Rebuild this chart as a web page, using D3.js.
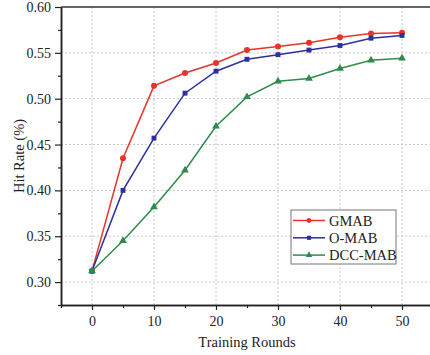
<!DOCTYPE html>
<html>
<head>
<meta charset="utf-8">
<script src="https://cdn.jsdelivr.net/npm/d3@7"></script>
<style>
body { margin: 0; background: #fff; }
svg { display: block; font-family: "Liberation Serif", "Times New Roman", serif; }
</style>
</head>
<body>
<script>
//data
var rounds = [0, 5, 10, 15, 20, 25, 30, 35, 40, 45, 50];
var seriesNames = ["GMAB", "O-MAB", "DCC-MAB"];
var gmab = [0.312, 0.435, 0.514, 0.528, 0.539, 0.553, 0.557, 0.561, 0.567, 0.571, 0.572];
var omab = [0.312, 0.400, 0.457, 0.506, 0.530, 0.543, 0.548, 0.553, 0.558, 0.566, 0.569];
var dccmab = [0.312, 0.345, 0.382, 0.422, 0.470, 0.502, 0.519, 0.522, 0.533, 0.542, 0.544];
var xTicks = [0, 10, 20, 30, 40, 50];
var yTicks = [0.30, 0.35, 0.40, 0.45, 0.50, 0.55, 0.60];

var colors = ["#e8332b", "#2c319c", "#2e8b4c"];
var symbols = [d3.symbolCircle, d3.symbolSquare, d3.symbolTriangle];
var symSizes = [28, 24, 26];

var width = 430, height = 355;
var margin = {top: 7, left: 61, bottom: 50, right: -3};

var svg = d3.select("body").append("svg")
    .attr("width", width)
    .attr("height", height);

var x = d3.scaleLinear().domain([-5, 55]).range([margin.left, width - margin.right]);
var y = d3.scaleLinear().domain([0.275, 0.60]).range([height - margin.bottom, margin.top]);

//grid
svg.append("g").selectAll("line").data(xTicks).enter().append("line")
    .attr("x1", function(d){ return x(d); })
    .attr("x2", function(d){ return x(d); })
    .attr("y1", y.range()[0])
    .attr("y2", y.range()[1])
    .attr("stroke", "#c8c8c8")
    .attr("stroke-width", 1)
    .attr("stroke-dasharray", "2,2");
svg.append("g").selectAll("line").data(yTicks.slice(0, -1)).enter().append("line")
    .attr("x1", x.range()[0])
    .attr("x2", x.range()[1])
    .attr("y1", function(d){ return y(d); })
    .attr("y2", function(d){ return y(d); })
    .attr("stroke", "#c8c8c8")
    .attr("stroke-width", 1)
    .attr("stroke-dasharray", "2,2");

//top border
svg.append("line")
    .attr("x1", x.range()[0]).attr("x2", x.range()[1])
    .attr("y1", y.range()[1]).attr("y2", y.range()[1])
    .attr("stroke", "#333").attr("stroke-width", 1.5);

//axes
var xAxis = d3.axisBottom(x).tickValues(xTicks).tickSize(5).tickSizeOuter(0).tickPadding(6);
var xMinor = d3.axisBottom(x).tickValues([-5, 5, 15, 25, 35, 45]).tickSize(3).tickSizeOuter(0).tickFormat("");
var yAxis = d3.axisLeft(y).tickValues(yTicks).tickSize(6).tickSizeOuter(0).tickPadding(4)
    .tickFormat(d3.format(".2f"));
var yMinor = d3.axisLeft(y).tickValues([0.275, 0.325, 0.375, 0.425, 0.475, 0.525, 0.575]).tickSize(3).tickSizeOuter(0).tickFormat("");

function styleAxis(g){
    g.select(".domain").attr("stroke", "#222").attr("stroke-width", 1.5);
    g.selectAll(".tick line").attr("stroke", "#222").attr("stroke-width", 1.2);
    g.selectAll("text").attr("font-family", "Liberation Serif").attr("font-size", 14).attr("fill", "#222");
}

svg.append("g").attr("transform", "translate(0," + y.range()[0] + ")").call(xMinor).call(styleAxis);
svg.append("g").attr("transform", "translate(0," + y.range()[0] + ")").call(xAxis).call(styleAxis);
svg.append("g").attr("transform", "translate(" + x.range()[0] + ",0)").call(yMinor).call(styleAxis);
svg.append("g").attr("transform", "translate(" + x.range()[0] + ",0)").call(yAxis).call(styleAxis);

//axis titles
svg.append("text")
    .attr("x", 247).attr("y", 347)
    .attr("text-anchor", "middle")
    .attr("font-size", 14.5).attr("fill", "#222")
    .text("Training Rounds");
svg.append("text")
    .attr("transform", "translate(24,156) rotate(-90)")
    .attr("text-anchor", "middle")
    .attr("font-size", 14.5).attr("fill", "#222")
    .text("Hit Rate (%)");

//series
var allSeries = [gmab, omab, dccmab];
var line = d3.line()
    .x(function(d, i){ return x(rounds[i]); })
    .y(function(d){ return y(d); });

allSeries.forEach(function(vals, s){
    var g = svg.append("g");
    g.append("path")
        .datum(vals)
        .attr("d", line)
        .attr("fill", "none")
        .attr("stroke", colors[s])
        .attr("stroke-width", 1.5);
    g.selectAll("path.pt").data(vals).enter().append("path")
        .attr("class", "pt")
        .attr("transform", function(d, i){ return "translate(" + x(rounds[i]) + "," + y(d) + ")"; })
        .attr("d", d3.symbol().type(symbols[s]).size(symSizes[s]))
        .attr("fill", colors[s]);
});

//legend
var legend = svg.append("g").attr("transform", "translate(291,210)");
legend.append("rect")
    .attr("width", 105).attr("height", 54)
    .attr("fill", "#fff")
    .attr("stroke", "#777").attr("stroke-width", 1);
seriesNames.forEach(function(name, s){
    var ly = 10.5 + s * 17.3;
    legend.append("line")
        .attr("x1", 2).attr("x2", 34)
        .attr("y1", ly).attr("y2", ly)
        .attr("stroke", colors[s]).attr("stroke-width", 1.5);
    legend.append("path")
        .attr("transform", "translate(18," + ly + ")")
        .attr("d", d3.symbol().type(symbols[s]).size(symSizes[s] * 0.7))
        .attr("fill", colors[s]);
    legend.append("text")
        .attr("x", 38).attr("y", ly + 5)
        .attr("font-size", 14.5).attr("fill", "#222")
        .text(name);
});
</script>
</body>
</html>
